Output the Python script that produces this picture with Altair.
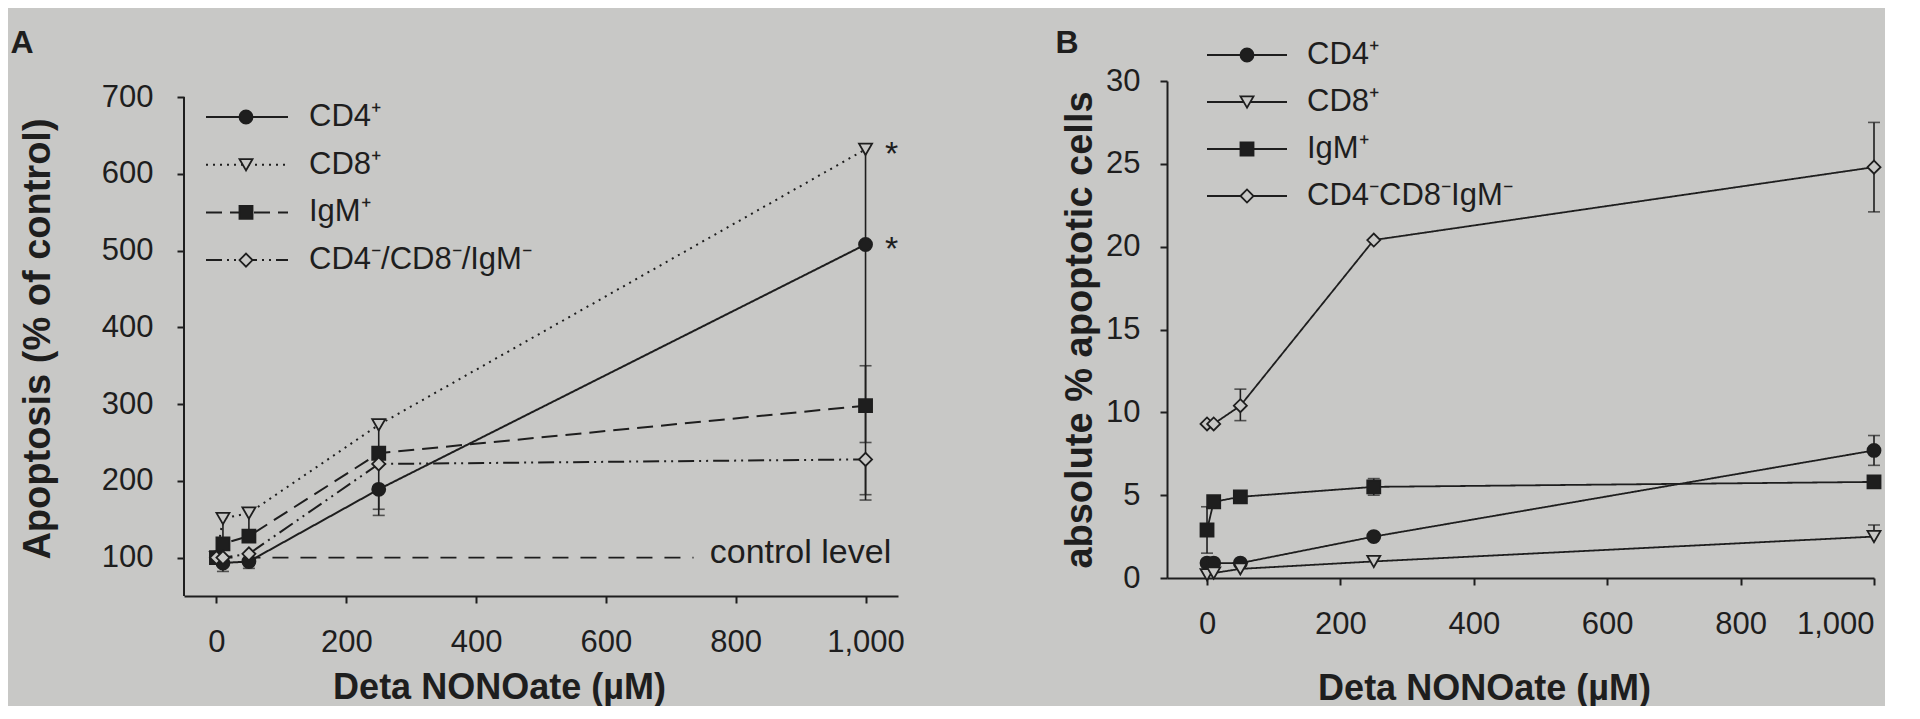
import altair as alt
import pandas as pd

BG = "#c8c8c6"
INK = "#1e1e1e"
FONT = "Liberation Sans"

doses = [0, 10, 50, 250, 1000]

# ---- Panel A: apoptosis (% of control) ----
a_names = ["CD4⁺", "CD8⁺", "IgM⁺", "CD4⁻/CD8⁻/IgM⁻"]
a_cd4 = [100, 93, 95, 189, 508]
a_cd8 = [100, 151, 158, 273, 632]
a_igm = [100, 118, 128, 236, 298]
a_dn = [100, 100, 105, 222, 228]
# error bar ends (None = no bar end on that side)
a_cd4_lo = [None, 82, 86, 163, None]
a_cd8_lo = [None, 120, 130, 238, 175]
a_igm_lo = [None, None, None, None, 250]
a_igm_hi = [None, None, None, None, 350]
a_dn_lo = [None, None, None, 155, 182]
a_star = ["CD4⁺", "CD8⁺"]
control_x = [0, 735]
control_y = [100, 100]
control_label = "control level"
control_label_x = 760

# ---- Panel B: absolute % apoptotic cells ----
b_names = ["CD4⁺", "CD8⁺", "IgM⁺", "CD4⁻CD8⁻IgM⁻"]
b_cd4 = [0.9, 0.9, 0.9, 2.5, 7.7]
b_cd8 = [0.2, 0.3, 0.55, 1.0, 2.5]
b_igm = [2.9, 4.6, 4.9, 5.5, 5.8]
b_dn = [9.3, 9.3, 10.4, 20.4, 24.8]
b_cd4_lo = [None, None, None, None, 6.8]
b_cd4_hi = [None, None, None, None, 8.6]
b_cd8_hi = [None, None, None, None, 3.2]
b_igm_lo = [1.5, None, None, 5.0, None]
b_igm_hi = [4.3, None, None, 6.0, None]
b_dn_lo = [None, None, 9.5, None, 22.1]
b_dn_hi = [None, None, 11.4, None, 27.5]

x_ticks = [0, 200, 400, 600, 800, 1000]
a_y_ticks = [100, 200, 300, 400, 500, 600, 700]
b_y_ticks = [0, 5, 10, 15, 20, 25, 30]

shapes = ["circle", "triangle-down", "square", "diamond"]
fills = [INK, BG, INK, BG]
MSIZE = 170


def long_df(names, series):
    rows = []
    for n, vals in zip(names, series):
        for d, v in zip(doses, vals):
            rows.append({"series": n, "dose": d, "value": v})
    return pd.DataFrame(rows)


def err_dfs(names, series, los, his):
    bars, caps = [], []
    for n, vals, lo, hi in zip(names, series, los, his):
        for i, (d, v) in enumerate(zip(doses, vals)):
            l = lo[i] if lo is not None else None
            h = hi[i] if hi is not None else None
            if l is None and h is None:
                continue
            bars.append({"series": n, "dose": d,
                         "lo": l if l is not None else v,
                         "hi": h if h is not None else v})
            if l is not None:
                caps.append({"series": n, "dose": d, "cap": l})
            if h is not None:
                caps.append({"series": n, "dose": d, "cap": h})
    return pd.DataFrame(bars), pd.DataFrame(caps)


def panel(names, series, los, his, xdom, ydom, yvals, w, h, ytitle, dashes, lw,
          legend_pos, ylp, ytp, xtp, xtx, letter, letter_pos, y_axis_line=None, extra=None):
    df = long_df(names, series)
    bars, caps = err_dfs(names, series, los, his)
    xs = alt.Scale(domain=xdom, nice=False, zero=False)
    ys = alt.Scale(domain=ydom, nice=False, zero=False)
    X = alt.X("dose:Q", scale=xs, axis=alt.Axis(values=x_ticks, format=",d",
                                                title="Deta NONOate (µM)", titlePadding=xtp,
                                                titleX=xtx, titleAlign="center"))
    Y = alt.Y("value:Q", scale=ys, axis=alt.Axis(values=yvals, title=ytitle, titlePadding=ytp,
                                                 labelPadding=ylp,
                                                 domain=(y_axis_line is None)))
    base = alt.Chart(df)
    lines = base.mark_line(color=INK, strokeWidth=lw).encode(
        x=X, y=Y, detail="series:N",
        strokeDash=alt.StrokeDash("series:N", scale=alt.Scale(domain=names, range=dashes), legend=None),
        order="dose:Q")
    rules = alt.Chart(bars).mark_rule(color=INK, strokeWidth=1.6).encode(
        x=alt.X("dose:Q", scale=xs), y=alt.Y("lo:Q", scale=ys), y2="hi:Q")
    capm = alt.Chart(caps).mark_tick(color=INK, orient="horizontal", size=12, thickness=1.6).encode(
        x=alt.X("dose:Q", scale=xs), y=alt.Y("cap:Q", scale=ys))
    pts = base.mark_point(filled=True, stroke=INK, strokeWidth=1.8, size=MSIZE, opacity=1).encode(
        x=X, y=Y,
        shape=alt.Shape("series:N", scale=alt.Scale(domain=names, range=shapes), legend=None),
        fill=alt.Fill("series:N", scale=alt.Scale(domain=names, range=fills), legend=None))
    layers = [lines]
    if y_axis_line is not None:
        adf = pd.DataFrame({"dose": [xdom[0]], "lo": [y_axis_line[0]], "hi": [y_axis_line[1]]})
        layers.append(alt.Chart(adf).mark_rule(color=INK, strokeWidth=2).encode(
            x=alt.X("dose:Q", scale=xs), y=alt.Y("lo:Q", scale=ys), y2="hi:Q"))
    if extra is not None:
        layers += extra(xs, ys)
    layers += [rules, capm, pts]
    # hand-drawn legend
    lx0, lx1, lmx, ltx, ly0, lstep = legend_pos
    for i, (n, shp, fl, ds) in enumerate(zip(names, shapes, fills, dashes)):
        yy = ly0 + i * lstep
        one = pd.DataFrame({"label": [n]})
        layers.append(alt.Chart(one).mark_rule(color=INK, strokeWidth=lw, strokeDash=ds).encode(
            x=alt.value(lx0), x2=alt.value(lx1), y=alt.value(yy)))
        layers.append(alt.Chart(one).mark_point(shape=shp, filled=True, fill=fl, stroke=INK,
                                                strokeWidth=1.8, size=MSIZE, opacity=1).encode(
            x=alt.value(lmx), y=alt.value(yy)))
        layers.append(alt.Chart(one).mark_text(align="left", baseline="middle", fontSize=31,
                                               font=FONT, color=INK).encode(
            x=alt.value(ltx), y=alt.value(yy), text="label:N"))
    ldf = pd.DataFrame({"t": [letter]})
    layers.append(alt.Chart(ldf).mark_text(align="center", baseline="middle", fontSize=32,
                                           fontWeight="bold", font=FONT, color=INK).encode(
        x=alt.value(letter_pos[0]), y=alt.value(letter_pos[1]), text="t:N"))
    return alt.layer(*layers).properties(width=w, height=h)


def extra_a(xs, ys):
    cdf = pd.DataFrame({"dose": control_x, "value": control_y})
    ctrl = alt.Chart(cdf).mark_line(color=INK, strokeWidth=1.8, strokeDash=[16, 12]).encode(
        x=alt.X("dose:Q", scale=xs), y=alt.Y("value:Q", scale=ys))
    sdf = long_df(a_names, [a_cd4, a_cd8, a_igm, a_dn])
    sdf = sdf[(sdf["dose"] == 1000) & (sdf["series"].isin(a_star))]
    stars = alt.Chart(sdf).mark_text(text="*", fontSize=34, font=FONT, color=INK, dx=26, dy=6,
                                     baseline="middle").encode(
        x=alt.X("dose:Q", scale=xs), y=alt.Y("value:Q", scale=ys))
    lab = pd.DataFrame({"t": [control_label], "dose": [control_label_x], "value": [control_y[0]]})
    leg_txt = alt.Chart(lab).mark_text(align="left", baseline="middle", fontSize=34, font=FONT,
                                       color=INK, dy=-5).encode(
        x=alt.X("dose:Q", scale=xs), y=alt.Y("value:Q", scale=ys), text="t:N")
    return [ctrl, stars, leg_txt]


chart_a = panel(a_names, [a_cd4, a_cd8, a_igm, a_dn],
                [a_cd4_lo, a_cd8_lo, a_igm_lo, a_dn_lo], [None, None, a_igm_hi, None],
                [-50, 1050], [50, 721], a_y_ticks, 714, 515,
                "Apoptosis (% of control)",
                [[1, 0], [2, 5], [16, 8], [16, 5, 2, 5, 2, 5]], 2,
                (22, 104, 62, 125, 36, 47.7), 24, 44, 13, 315, "A", (-162, -38),
                y_axis_line=(50, 700), extra=extra_a)

chart_b = panel(b_names, [b_cd4, b_cd8, b_igm, b_dn],
                [b_cd4_lo, None, b_igm_lo, b_dn_lo], [b_cd4_hi, b_cd8_hi, b_igm_hi, b_dn_hi],
                [-60, 1000], [0, 30], b_y_ticks, 707, 497,
                "absolute % apoptotic cells",
                [[1, 0], [1, 0], [1, 0], [1, 0]], 1.8,
                (40, 120, 80, 140, -26, 47), 20, 6, 32, 317, "B", (-100, -38))

chart = alt.hconcat(chart_a, chart_b, spacing=150).resolve_scale(
    x="independent", y="independent", shape="independent", fill="independent",
    strokeDash="independent"
).properties(
    padding={"left": 2, "top": 19, "right": 0, "bottom": 0}
).configure(background=BG, font=FONT).configure_view(stroke=None).configure_axis(
    grid=False, domainColor=INK, domainWidth=2, tickColor=INK, tickWidth=2, tickSize=7,
    labelFont=FONT, labelFontSize=31, labelColor=INK, labelPadding=20,
    titleFont=FONT, titleFontSize=38, titleFontWeight="bold", titleColor=INK
).configure_axisX(labelPadding=24, titleFontSize=36)

chart.save("out.html", embed_options={"renderer": "svg", "actions": False})
